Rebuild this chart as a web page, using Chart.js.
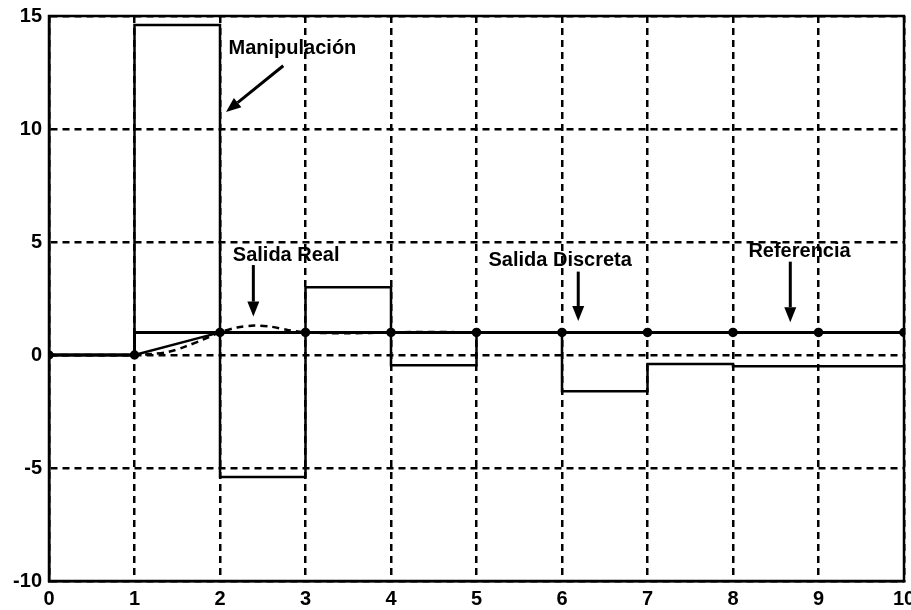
<!DOCTYPE html>
<html>
<head>
<meta charset="utf-8">
<script src="https://cdn.jsdelivr.net/npm/chart.js@4/dist/chart.umd.min.js"></script>
<style>
html,body{margin:0;padding:0;background:#fff;}
#wrap{position:relative;width:911px;height:610px;}
</style>
</head>
<body>
<div id="wrap"><canvas id="c" width="911" height="610"></canvas></div>
<script>
// ---- data ----
const sampleTimes = [0,1,2,3,4,5,6,7,8,9,10];
const manipulacion = [0,14.6,-5.4,3.0,-0.45,1.0,-1.6,-0.4,-0.5,-0.5,-0.5];
const referencia = [0,1,1,1,1,1,1,1,1,1,1];
const salidaDiscreta = [0,0,1,1,1,1,1,1,1,1,1];
const realTimes = [0,1,1.2,1.4,1.6,1.8,2.0,2.2,2.4,2.6,2.8,3.0,3.5,4.0,4.5,5,6,7,8,9,10];
const salidaReal = [0,0,0.04,0.14,0.38,0.68,1.0,1.22,1.3,1.25,1.1,1.0,0.96,1.0,1.02,1.0,1.0,1.0,1.0,1.0,1.0];
const xTicks = [0,1,2,3,4,5,6,7,8,9,10];
const yTicks = [-10,-5,0,5,10,15];

// annotation labels (text, text pos, arrow from -> to, in data units)
const labels = [
  {text:'Manipulación', tx:2.1, ty:13.3, ax1:2.74, ay1:12.8, ax2:2.07, ay2:10.75},
  {text:'Salida Real', tx:2.15, ty:4.17, ax1:2.39, ay1:3.98, ax2:2.39, ay2:1.7},
  {text:'Salida Discreta', tx:5.14, ty:3.94, ax1:6.19, ay1:3.69, ax2:6.19, ay2:1.5},
  {text:'Referencia', tx:8.18, ty:4.35, ax1:8.67, ay1:4.13, ax2:8.67, ay2:1.45}
];

const pts = (xs, ys) => xs.map((x,i)=>({x:x, y:ys[i]}));
const FONT = {family:'"Liberation Sans", Arial, sans-serif', size:20, weight:'bold'};

const annotPlugin = {
  id:'annot',
  afterDatasetsDraw(chart){
    const {ctx, chartArea:a, scales:{x, y}} = chart;
    ctx.save();
    // frame
    ctx.strokeStyle = '#000';
    ctx.lineWidth = 2.5;
    ctx.strokeRect(a.left, a.top, a.right - a.left, a.bottom - a.top);
    ctx.font = 'bold 20px "Liberation Sans", Arial, sans-serif';
    ctx.fillStyle = '#000';
    ctx.textBaseline = 'alphabetic';
    ctx.textAlign = 'left';
    labels.forEach(l=>{
      ctx.fillText(l.text, x.getPixelForValue(l.tx), y.getPixelForValue(l.ty));
      const x1 = x.getPixelForValue(l.ax1), y1 = y.getPixelForValue(l.ay1);
      const x2 = x.getPixelForValue(l.ax2), y2 = y.getPixelForValue(l.ay2);
      const ang = Math.atan2(y2-y1, x2-x1);
      const hl = 15, hw = 6;
      const bx = x2 - hl*Math.cos(ang), by = y2 - hl*Math.sin(ang);
      ctx.lineWidth = 3;
      ctx.beginPath(); ctx.moveTo(x1,y1); ctx.lineTo(bx,by); ctx.stroke();
      ctx.beginPath();
      ctx.moveTo(x2,y2);
      ctx.lineTo(bx + hw*Math.sin(ang), by - hw*Math.cos(ang));
      ctx.lineTo(bx - hw*Math.sin(ang), by + hw*Math.cos(ang));
      ctx.closePath(); ctx.fill();
    });
    ctx.restore();
  }
};

new Chart(document.getElementById('c'), {
  type:'line',
  data:{
    datasets:[
      {label:'Referencia', data:pts(sampleTimes, referencia), stepped:true, borderColor:'#000', borderWidth:3, pointRadius:0, fill:false},
      {label:'Manipulación', data:pts(sampleTimes, manipulacion), stepped:true, borderColor:'#000', borderWidth:2.5, pointRadius:0, fill:false},
      {label:'Salida Real', data:pts(realTimes, salidaReal), borderColor:'#000', borderWidth:2.5, borderDash:[7,5], pointRadius:0, tension:0.3, fill:false},
      {label:'Salida Discreta', data:pts(sampleTimes, salidaDiscreta), borderColor:'#000', borderWidth:2.5, pointRadius:3.5, pointBackgroundColor:'#000', pointBorderColor:'#000', fill:false}
    ]
  },
  options:{
    responsive:false,
    animation:false,
    layout:{padding:{top:16, right:7, left:0, bottom:0}},
    plugins:{legend:{display:false}, tooltip:{enabled:false}},
    scales:{
      x:{
        type:'linear', min:0, max:10,
        afterBuildTicks:(s)=>{ s.ticks = xTicks.map(v=>({value:v})); },
        afterFit:(s)=>{ s.height = 29; s.paddingLeft = 0; s.paddingRight = 0; },
        ticks:{color:'#000', font:FONT, padding:6, maxRotation:0, autoSkip:false},
        grid:{color:'#000', lineWidth:2.5, drawTicks:false},
        border:{display:true, color:'#000', width:2.5, dash:[7,5]}
      },
      y:{
        type:'linear', min:-10, max:15,
        afterBuildTicks:(s)=>{ s.ticks = yTicks.map(v=>({value:v})); },
        afterFit:(s)=>{ s.width = 49; s.paddingTop = 0; s.paddingBottom = 0; },
        ticks:{color:'#000', font:FONT, padding:7, autoSkip:false},
        grid:{color:'#000', lineWidth:2.5, drawTicks:false},
        border:{display:true, color:'#000', width:2.5, dash:[7,5]}
      }
    }
  },
  plugins:[annotPlugin]
});
</script>
</body>
</html>
